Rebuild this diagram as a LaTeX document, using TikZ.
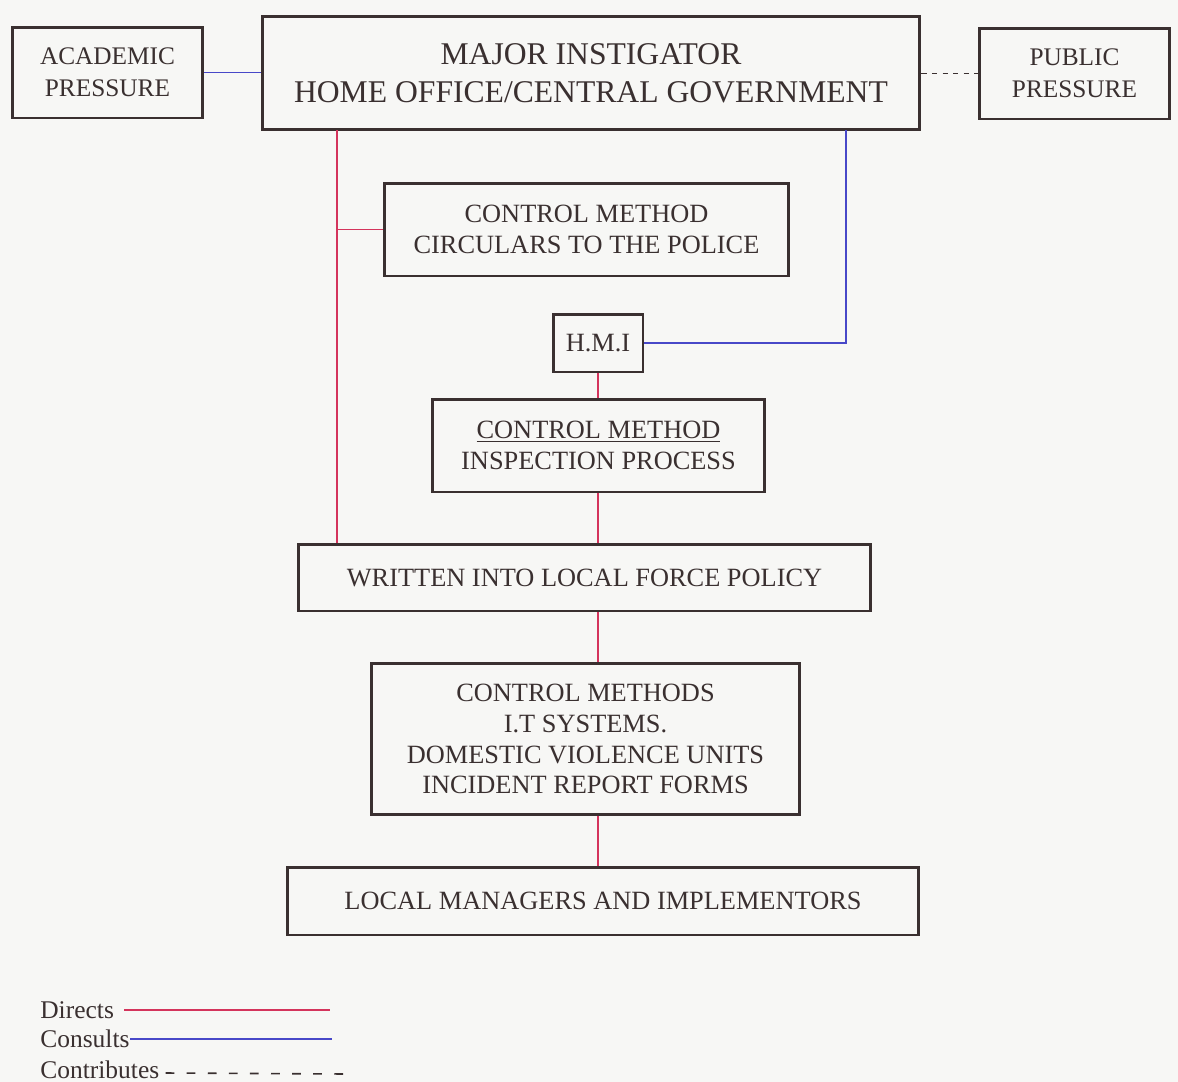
\documentclass[tikz,border=0pt]{standalone}
\usepackage{fontspec}
\setmainfont{Liberation Serif}
\usetikzlibrary{calc}

\definecolor{inkcol}{RGB}{58,48,48}
\definecolor{paper}{RGB}{247,247,245}
\definecolor{dircol}{RGB}{212,52,92}
\definecolor{concol}{RGB}{72,72,200}

\begin{document}
\begin{tikzpicture}[x=0.02cm, y=-0.02cm,
    box/.style={draw=inkcol, line width=1.7pt, align=center, inner sep=0pt, text=inkcol,
        font=\fontsize{15}{17.6}\selectfont},
    bigtext/.style={font=\fontsize{18}{21.5}\selectfont},
    sidetext/.style={font=\fontsize{14.4}{18}\selectfont},
    legend/.style={anchor=west, inner sep=0pt, text=inkcol, font=\fontsize{14.5}{16}\selectfont},
    directs/.style={draw=dircol, line width=0.9pt},
    consults/.style={draw=concol, line width=0.9pt},
    contrib/.style={draw=inkcol, line width=0.9pt, dash pattern=on 3pt off 3pt}]

    % Paper and margins
    \fill[paper] (0,0) rectangle (1178,1082);
    \useasboundingbox (0,0) rectangle (1178,1082);

    % Top row
    \node[box, sidetext, minimum width=3.82cm, minimum height=1.82cm] (acad) at (107.5,72.5) {ACADEMIC\\PRESSURE};
    \node[box, bigtext, minimum width=13.16cm, minimum height=2.28cm] (major) at (591,73) {MAJOR INSTIGATOR\\HOME OFFICE/CENTRAL GOVERNMENT};
    \node[box, sidetext, minimum width=3.82cm, minimum height=1.82cm] (public) at (1074.5,73.5) {PUBLIC\\PRESSURE};

    % Control methods and inspection
    \node[box, minimum width=8.1cm, minimum height=1.86cm] (circ) at (586.5,229.5) {CONTROL METHOD\\CIRCULARS TO THE POLICE};
    \node[box, minimum width=1.8cm, minimum height=1.16cm] (hmi) at (598,343) {H.M.I};
    \node[box, minimum width=6.66cm, minimum height=1.86cm] (insp) at (598.5,445.5) {\underline{CONTROL METHOD}\\INSPECTION PROCESS};

    % Local force
    \node[box, minimum width=11.46cm, minimum height=1.34cm] (policy) at (584.5,577.5) {WRITTEN INTO LOCAL FORCE POLICY};
    \node[box, minimum width=8.58cm, minimum height=3.04cm] (methods) at (585.5,739) {CONTROL METHODS\\I.T SYSTEMS.\\DOMESTIC VIOLENCE UNITS\\INCIDENT REPORT FORMS};
    \node[box, minimum width=12.64cm, minimum height=1.36cm] (local) at (603,901) {LOCAL MANAGERS AND IMPLEMENTORS};

    % Side branches of the top box
    \coordinate (lt) at (337,130);
    \coordinate (rt) at (846,130);

    % Connectors
    \draw[consults] (acad.east) -- (acad.east -| major.west);
    \draw[contrib] (major.east |- public.west) -- (public.west);
    \draw[directs] (lt) -- (lt |- policy.north);
    \draw[directs] (circ.west -| lt) -- (circ.west);
    \draw[consults] (rt) |- (hmi.east);
    \draw[directs] (insp.north -| hmi) -- (hmi.south);
    \draw[directs] (insp.south -| hmi) -- (policy.north -| hmi);
    \draw[directs] (policy.south -| hmi) -- (methods.north -| hmi);
    \draw[directs] (methods.south -| hmi) -- (local.north -| hmi);

    % Key
    \node[legend] (kdir) at (40,1010) {Directs};
    \node[legend] (kcon) at (40,1039) {Consults};
    \node[legend] (kcontr) at (40,1070) {Contributes};
    \coordinate (kdirend) at (330,1012);
    \coordinate (kconend) at (332,1041);
    \coordinate (kcontrend) at (345,1074);
    \draw[directs] ($(kdir.east)+(10,0)$) -- (kdir.east -| kdirend);
    \draw[consults] (kcon.east) -- (kcon.east -| kconend);
    \draw[contrib, dash pattern=on 5pt off 7pt] ($(kcontr.east)+(6,3)$) -- (kcontrend);

\end{tikzpicture}
\end{document}
